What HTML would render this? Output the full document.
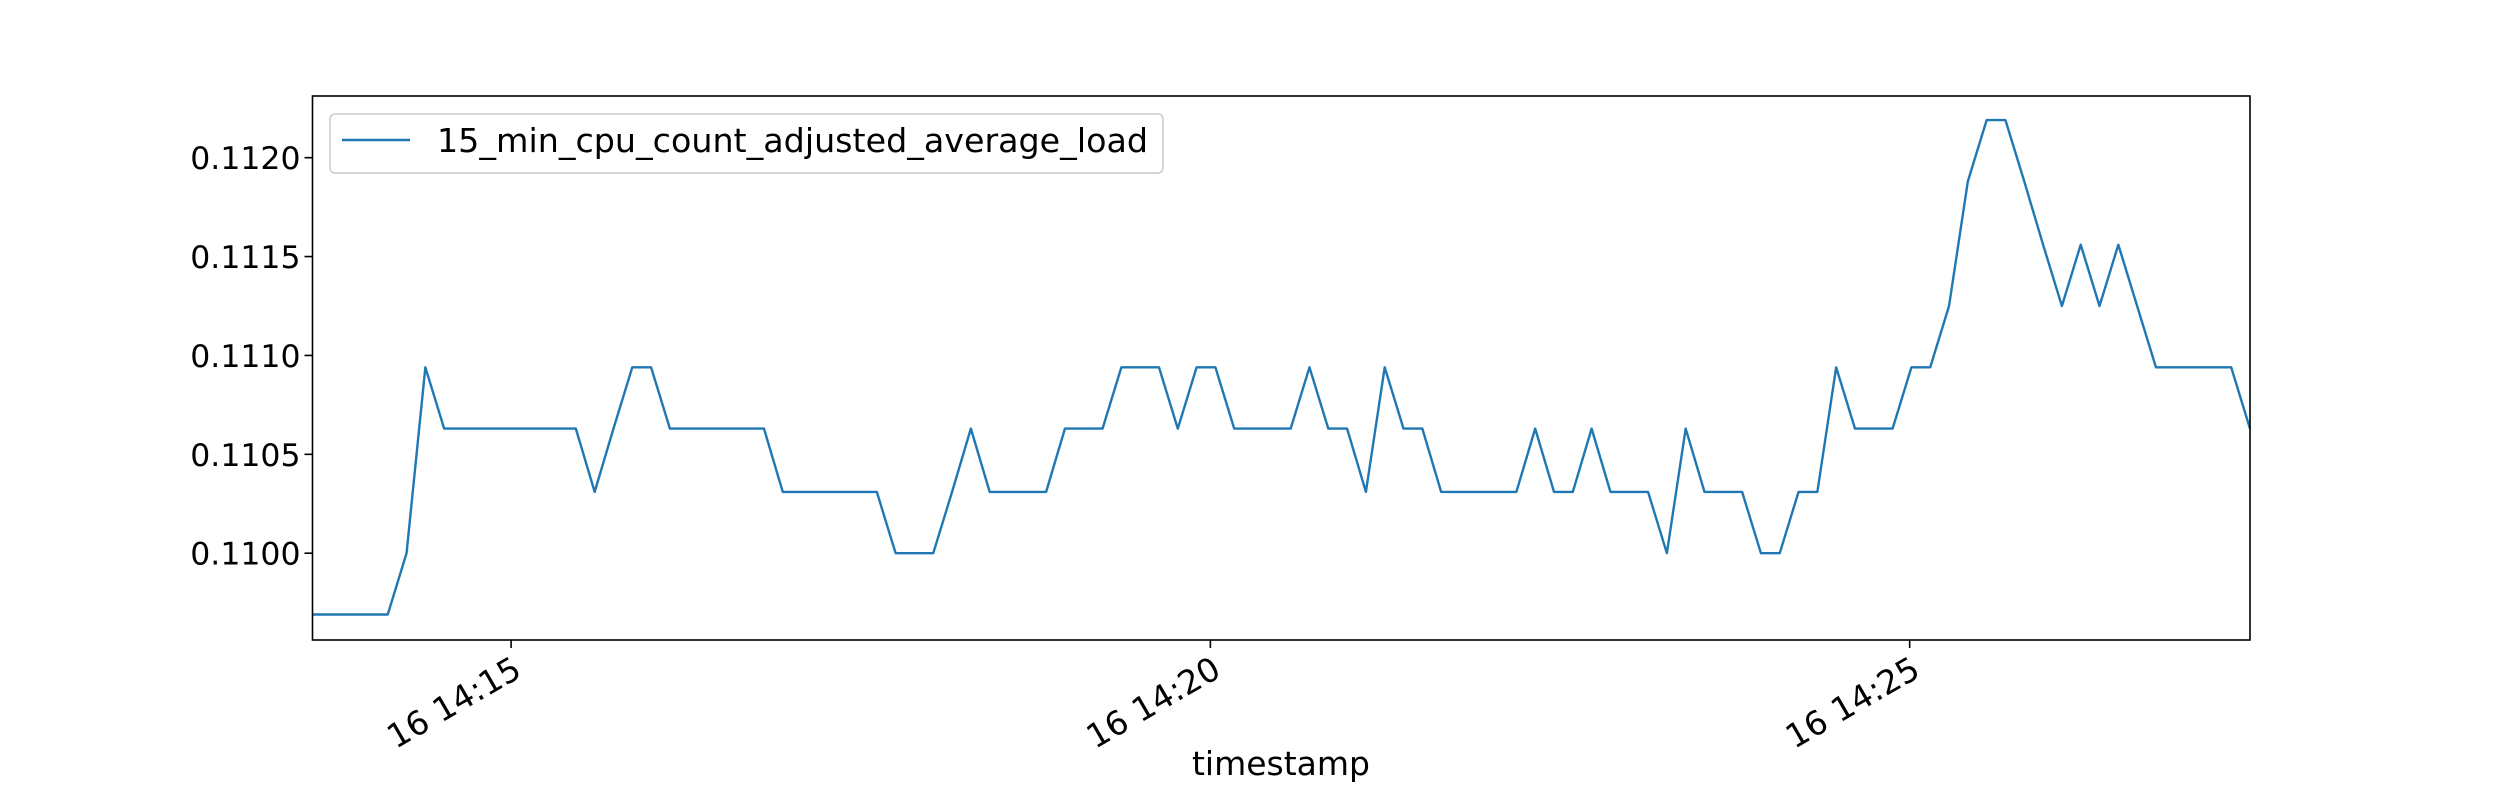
<!DOCTYPE html>
<html><head><meta charset="utf-8"><style>
html,body{margin:0;padding:0;background:#fff;}
svg{display:block;font-family:"DejaVu Sans","Liberation Sans",sans-serif;}
</style></head><body>
<svg id="chart" width="2500" height="800" viewBox="0 0 2500 800" xmlns="http://www.w3.org/2000/svg">
<rect x="0" y="0" width="2500" height="800" fill="#fff"/>
<g id="yticks"></g>
<g id="xticks"></g>
<polyline id="series" fill="none" stroke="#1f77b4" stroke-width="2.4" stroke-linejoin="round"/>
<rect x="312.5" y="96" width="1937.5" height="544" fill="none" stroke="#000" stroke-width="1.6"/>
<text x="1281" y="775" font-size="33" text-anchor="middle">timestamp</text>
<g>
<rect x="330" y="114" width="833" height="59" rx="5" fill="#fff" fill-opacity="0.8" stroke="#ccc" stroke-width="1.5"/>
<line x1="342" y1="140" x2="410" y2="140" stroke="#1f77b4" stroke-width="2.4"/>
<text x="437" y="152" font-size="33" textLength="711" lengthAdjust="spacingAndGlyphs">15_min_cpu_count_adjusted_average_load</text>
</g>
</svg>
<script>
const values = [0.10969,0.10969,0.10969,0.10969,0.10969,0.11000,0.11094,0.11063,0.11063,0.11063,
0.11063,0.11063,0.11063,0.11063,0.11063,0.11031,0.11063,0.11094,0.11094,0.11063,
0.11063,0.11063,0.11063,0.11063,0.11063,0.11031,0.11031,0.11031,0.11031,0.11031,
0.11031,0.11000,0.11000,0.11000,0.11031,0.11063,0.11031,0.11031,0.11031,0.11031,
0.11063,0.11063,0.11063,0.11094,0.11094,0.11094,0.11063,0.11094,0.11094,0.11063,
0.11063,0.11063,0.11063,0.11094,0.11063,0.11063,0.11031,0.11094,0.11063,0.11063,
0.11031,0.11031,0.11031,0.11031,0.11031,0.11063,0.11031,0.11031,0.11063,0.11031,
0.11031,0.11031,0.11000,0.11063,0.11031,0.11031,0.11031,0.11000,0.11000,0.11031,
0.11031,0.11094,0.11063,0.11063,0.11063,0.11094,0.11094,0.11125,0.11188,0.11219,
0.11219,0.11188,0.11156,0.11125,0.11156,0.11125,0.11156,0.11125,0.11094,0.11094,
0.11094,0.11094,0.11094,0.11063];
const startSec = 14*3600 + 13*60 + 34.8;   // 14:13:34.8
const intervalSec = 8.07;
const yTicks = [0.1100, 0.1105, 0.1110, 0.1115, 0.1120];
const yTickLabels = ["0.1100","0.1105","0.1110","0.1115","0.1120"];
const xTickSecs = [14*3600+15*60, 14*3600+20*60, 14*3600+25*60];
const xTickLabels = ["16 14:15","16 14:20","16 14:25"];

const L=312.5, R=2250, T=96, B=640;
const t0 = startSec, t1 = startSec + intervalSec*(values.length-1);
const x = s => L + (s - t0)/(t1 - t0)*(R - L);
const yMin = 0.1100 - (B-553.2)/197760, yMax = 0.1100 + (553.2-T)/197760;
const y = v => B - (v - yMin)/(yMax - yMin)*(B - T);
const NS = "http://www.w3.org/2000/svg";

const pts = values.map((v,i)=> x(t0 + i*intervalSec).toFixed(2)+","+y(v).toFixed(2)).join(" ");
document.getElementById('series').setAttribute('points', pts);

const yg = document.getElementById('yticks');
yTicks.forEach((v,i)=>{
  const yy = y(v);
  const ln = document.createElementNS(NS,'line');
  
  
  ln.setAttribute('x1', L-8); ln.setAttribute('x2', L); ln.setAttribute('y1', yy); ln.setAttribute('y2', yy);
  ln.setAttribute('stroke', '#000'); ln.setAttribute('stroke-width', '1.6');
  yg.appendChild(ln);
  const tx = document.createElementNS(NS,'text');
  
  
  tx.setAttribute('x', L-12); tx.setAttribute('y', yy+11.5);
  tx.setAttribute('font-size', '31.5'); tx.setAttribute('text-anchor', 'end');
  tx.textContent = yTickLabels[i];
  yg.appendChild(tx);
});
const xg = document.getElementById('xticks');
xTickSecs.forEach((s,i)=>{
  const xx = x(s);
  const ln = document.createElementNS(NS,'line');
  
  
  ln.setAttribute('x1', xx); ln.setAttribute('x2', xx); ln.setAttribute('y1', B); ln.setAttribute('y2', B+8);
  ln.setAttribute('stroke', '#000'); ln.setAttribute('stroke-width', '1.6');
  xg.appendChild(ln);
  const tx = document.createElementNS(NS,'text');
  
  
  tx.setAttribute('x', xx); tx.setAttribute('y', B+14);
  tx.setAttribute('font-size', '33'); tx.setAttribute('text-anchor', 'end');
  tx.setAttribute('dominant-baseline', 'hanging');
  tx.setAttribute('transform', 'rotate(-30 '+xx+' '+(B+14)+')');
  tx.textContent = xTickLabels[i];
  xg.appendChild(tx);
});
</script>
</body></html>
